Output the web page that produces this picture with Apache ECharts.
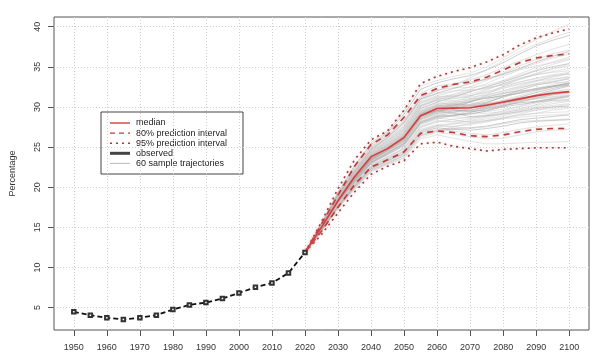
<!DOCTYPE html>
<html><head><meta charset="utf-8">
<script src="https://cdn.jsdelivr.net/npm/echarts@6/dist/echarts.min.js"></script>
<style>html,body{margin:0;padding:0;background:#fff}#c{width:600px;height:360px}</style>
</head><body><div id="c"></div>
<script>
const obsYears = [1950,1955,1960,1965,1970,1975,1980,1985,1990,1995,2000,2005,2010,2015,2020];
const obsValues = [4.47,4.05,3.72,3.51,3.72,4.05,4.75,5.33,5.62,6.12,6.82,7.52,8.06,9.3,11.86];
const projYears = [2020,2025,2030,2035,2040,2045,2050,2055,2060,2065,2070,2075,2080,2085,2090,2095,2100];
const median   = [11.86,15.0,18.3,21.3,23.8,24.8,26.2,28.9,29.8,29.85,29.9,30.2,30.6,31.0,31.4,31.7,31.9];
const pi80Low  = [11.86,14.5,17.5,20.3,22.5,23.4,24.4,26.7,27.0,26.8,26.4,26.3,26.5,26.9,27.2,27.3,27.3];
const pi80High = [11.86,15.4,19.0,22.6,25.3,26.5,28.7,31.4,32.3,32.8,33.1,33.7,34.6,35.5,36.1,36.4,36.6];
const pi95Low  = [11.86,14.1,16.8,19.4,21.6,22.6,23.3,25.4,25.6,25.1,24.8,24.5,24.7,24.8,24.9,24.9,24.9];
const pi95High = [11.86,15.7,19.8,23.4,25.9,27.0,29.6,32.9,33.8,34.4,34.9,35.6,36.5,37.7,38.6,39.2,39.7];
const trajectories = [
 [11.86,15.2,18.7,21.5,24.0,25.3,26.8,29.8,30.6,31.2,31.9,32.5,33.1,33.8,34.5,35.0,35.4],
 [11.86,14.9,18.2,20.6,23.0,24.1,25.2,27.9,28.6,28.4,28.1,28.3,28.6,28.9,29.2,29.6,29.8],
 [11.86,15.4,19.1,22.3,24.9,26.4,28.3,31.2,32.0,32.8,33.4,34.0,34.9,35.7,36.5,37.2,37.8],
 [11.86,14.6,17.6,20.0,22.3,23.2,24.1,26.6,27.2,27.0,26.7,26.5,26.8,27.2,27.5,27.7,27.9],
 [11.86,15.0,18.4,21.0,23.5,24.9,26.3,29.2,30.1,30.4,30.2,30.6,31.2,31.8,32.3,32.6,32.9],
 [11.86,15.3,18.9,21.8,24.4,25.8,27.4,30.4,31.1,31.6,32.2,32.9,33.8,34.6,35.1,35.5,36.0],
 [11.86,14.8,18.0,20.4,22.8,23.8,24.9,27.6,28.3,28.2,28.5,28.9,29.3,29.6,30.0,30.4,30.7],
 [11.86,15.1,18.6,21.3,23.8,25.0,26.4,29.3,30.0,29.7,29.5,29.9,30.4,30.9,31.3,31.6,31.8],
 [11.86,15.5,19.3,22.6,25.3,26.8,29.1,32.2,33.0,33.5,33.9,34.6,35.5,36.6,37.6,38.3,38.9],
 [11.86,14.5,17.3,19.7,21.9,22.8,23.6,26.0,26.5,26.1,25.7,25.4,25.4,25.5,25.6,25.6,25.7],
 [11.86,15.0,18.3,20.9,23.3,24.5,25.9,28.7,29.3,29.7,30.3,30.9,31.6,32.3,32.9,33.4,33.8],
 [11.86,15.2,18.8,21.6,24.1,25.4,27.0,30.0,30.8,30.7,30.5,30.4,30.6,30.9,31.3,31.7,31.9],
 [11.86,14.9,18.1,20.7,23.1,24.2,25.5,28.2,28.9,29.3,29.8,30.5,31.3,32.1,32.7,33.1,33.5],
 [11.86,15.3,18.9,21.9,24.6,26.1,27.9,30.9,31.6,32.0,32.1,32.3,32.8,33.4,34.0,34.4,34.8],
 [11.86,14.7,17.8,20.2,22.6,23.5,24.6,27.2,27.8,27.9,28.0,28.3,28.7,29.0,29.2,29.3,29.4],
 [11.86,15.1,18.5,21.1,23.6,24.7,26.0,28.8,29.6,30.1,30.6,31.5,32.6,33.5,34.2,34.8,35.3],
 [11.86,15.0,18.4,21.0,23.4,24.6,26.0,28.9,29.5,29.2,28.8,28.9,29.1,29.4,29.8,30.0,30.1],
 [11.86,15.4,19.0,22.1,24.8,26.2,28.0,31.0,32.0,32.7,33.6,34.6,35.8,36.9,37.8,38.6,39.3],
 [11.86,14.8,17.9,20.3,22.6,23.7,24.8,27.4,28.1,28.5,28.7,29.0,29.5,30.1,30.7,31.1,31.4],
 [11.86,15.2,18.6,21.4,23.9,25.1,26.6,29.5,30.3,30.5,30.9,31.4,32.0,32.5,32.9,33.2,33.6],
 [11.86,14.6,17.5,19.9,22.1,23.0,23.9,26.4,27.0,27.3,27.4,27.6,28.0,28.4,28.6,28.8,29.0],
 [11.86,15.1,18.5,21.2,23.7,24.9,26.2,29.0,29.8,30.0,29.9,30.1,30.5,30.8,31.0,31.3,31.5],
 [11.86,15.3,18.8,21.7,24.3,25.7,27.3,30.2,30.9,31.3,31.9,32.5,33.2,33.9,34.6,35.3,35.9],
 [11.86,14.9,18.2,20.8,23.2,24.3,25.6,28.4,29.0,28.8,28.6,28.8,29.2,29.7,30.3,30.9,31.2],
 [11.86,15.0,18.3,20.9,23.4,24.6,25.8,28.6,29.4,29.9,30.6,31.2,31.7,32.0,32.2,32.6,33.0],
 [11.86,15.5,19.2,22.4,25.1,26.6,28.7,31.7,32.6,32.9,33.1,33.4,34.0,34.7,35.4,36.1,36.6],
 [11.86,14.7,17.7,20.1,22.4,23.4,24.3,26.9,27.6,27.5,27.3,27.5,27.9,28.2,28.3,28.4,28.5],
 [11.86,15.2,18.7,21.5,24.0,25.2,26.7,29.6,30.4,30.8,31.0,31.1,31.3,31.7,32.3,32.8,33.2],
 [11.86,15.0,18.4,21.0,23.5,24.8,26.1,28.9,29.6,29.6,29.4,29.6,30.1,30.6,31.1,31.5,31.9],
 [11.86,15.1,18.6,21.3,23.8,25.1,26.5,29.4,30.2,30.6,31.3,32.1,32.9,33.6,34.0,34.3,34.5],
 [11.86,14.8,18.0,20.5,22.9,24.0,25.1,27.8,28.5,28.9,29.2,29.4,29.7,30.0,30.5,31.0,31.4],
 [11.86,15.3,18.9,21.8,24.5,25.9,27.6,30.6,31.3,31.4,31.6,32.2,32.9,33.5,34.1,34.7,35.1],
 [11.86,14.9,18.2,20.7,23.1,24.3,25.4,28.1,28.8,29.0,29.1,29.5,30.0,30.3,30.6,30.8,30.9],
 [11.86,15.2,18.7,21.5,24.1,25.4,26.9,29.8,30.5,30.3,30.1,30.3,30.8,31.4,32.0,32.5,32.8],
 [11.86,14.6,17.6,20.0,22.2,23.1,24.0,26.5,27.1,27.5,27.9,28.2,28.5,28.7,28.9,29.0,29.1],
 [11.86,15.4,19.1,22.2,25.0,26.4,28.3,31.3,32.1,32.4,32.4,32.7,33.3,34.1,34.9,35.6,36.2],
 [11.86,15.0,18.4,21.0,23.5,24.7,26.0,28.8,29.5,29.9,30.1,30.3,30.5,30.9,31.5,32.1,32.6],
 [11.86,15.1,18.5,21.2,23.6,24.8,26.3,29.1,29.9,30.3,30.8,31.3,31.8,32.4,32.8,33.0,33.1],
 [11.86,14.7,17.8,20.3,22.5,23.6,24.5,27.1,27.7,27.6,27.8,28.1,28.6,29.1,29.6,30.0,30.3],
 [11.86,15.3,18.8,21.6,24.2,25.5,27.1,30.1,30.9,31.5,32.0,32.4,32.7,33.1,33.6,34.0,34.3],
 [11.86,14.9,18.1,20.6,23.0,24.1,25.3,28.0,28.7,28.9,29.3,29.8,30.2,30.5,30.7,31.0,31.3],
 [11.86,15.2,18.6,21.4,23.9,25.2,26.6,29.5,30.2,30.1,30.3,30.8,31.4,31.9,32.3,32.5,32.7],
 [11.86,15.5,19.4,22.7,25.5,27.0,29.5,32.6,33.3,33.8,34.2,35.0,36.1,37.3,38.4,39.4,40.3],
 [11.86,14.5,17.4,19.8,22.0,22.9,23.7,26.2,26.8,26.6,26.3,26.0,26.1,26.5,26.9,27.1,27.2],
 [11.86,15.0,18.3,20.9,23.3,24.5,25.7,28.5,29.2,29.5,29.6,30.0,30.6,31.2,31.8,32.3,32.7],
 [11.86,15.1,18.5,21.2,23.7,25.0,26.4,29.2,30.0,30.2,30.2,30.4,30.8,31.1,31.4,31.6,31.8],
 [11.86,15.3,18.9,21.9,24.6,26.0,27.7,30.7,31.4,31.9,32.5,33.3,34.2,35.1,35.9,36.6,37.1],
 [11.86,14.8,17.9,20.4,22.7,23.8,24.8,27.5,28.2,28.1,28.2,28.5,28.9,29.3,29.6,29.8,30.0],
 [11.86,15.0,18.4,21.1,23.6,24.9,26.2,29.1,29.8,30.2,30.7,31.1,31.4,31.7,32.1,32.5,32.9],
 [11.86,15.2,18.7,21.6,24.2,25.6,27.2,30.2,31.0,31.1,31.2,31.5,32.0,32.6,33.2,33.8,34.2],
 [11.86,14.7,17.7,20.2,22.5,23.5,24.4,27.0,27.6,27.9,28.3,28.7,29.1,29.5,29.9,30.2,30.4],
 [11.86,15.1,18.6,21.3,23.8,25.1,26.5,29.4,30.1,30.0,29.7,29.8,30.2,30.7,31.0,31.2,31.4],
 [11.86,15.4,19.0,22.0,24.7,26.2,28.1,31.0,31.7,32.3,32.9,33.5,34.1,34.8,35.6,36.3,36.9],
 [11.86,14.9,18.2,20.8,23.2,24.4,25.6,28.4,29.1,29.4,29.5,29.7,30.2,30.8,31.4,31.9,32.2],
 [11.86,15.0,18.4,21.0,23.4,24.6,25.9,28.7,29.4,29.3,29.1,29.2,29.4,29.8,30.2,30.6,30.8],
 [11.86,15.2,18.8,21.7,24.3,25.6,27.2,30.1,30.8,31.0,31.4,31.9,32.5,33.1,33.5,33.9,34.1],
 [11.86,14.6,17.6,20.1,22.3,23.3,24.2,26.8,27.4,27.2,27.1,27.3,27.6,28.0,28.2,28.3,28.4],
 [11.86,15.1,18.5,21.2,23.7,24.9,26.3,29.1,29.9,30.4,31.0,31.7,32.3,32.8,33.2,33.5,33.7],
 [11.86,15.3,18.9,21.8,24.4,25.8,27.5,30.5,31.2,31.3,31.4,31.8,32.4,32.9,33.3,33.7,34.1],
 [11.86,14.8,18.1,20.6,23.0,24.1,25.2,27.9,28.6,29.0,29.5,30.0,30.4,30.8,31.2,31.5,31.7]
];
const xTicks = [1950,1960,1970,1980,1990,2000,2010,2020,2030,2040,2050,2060,2070,2080,2090,2100];
const yTicks = [5,10,15,20,25,30,35,40];
const legendLabels = ['median','80% prediction interval','95% prediction interval','observed','60 sample trajectories'];

const FONT = 'Liberation Sans, Arial, sans-serif';
const pair = (xs, ys) => xs.map((x, i) => [x, ys[i]]);
const redMed = '#d04040', redDash = '#b83c3c', redDot = '#a03c3c';
const halo = {shadowBlur: 3, shadowColor: 'rgba(240,140,140,0.5)'};

const series = [];
trajectories.forEach((t, i) => {
  series.push({type: 'line', data: pair(projYears, t), symbol: 'none', silent: true, z: 1,
    lineStyle: {color: i % 4 === 0 ? 'rgba(150,150,150,0.6)' : 'rgba(195,195,195,0.6)', width: 0.8}});
});
function band(vals, color, type, width) {
  return {type: 'line', data: pair(projYears, vals), symbol: 'none', silent: true, z: 3,
    lineStyle: Object.assign({color, width, type}, halo)};
}
series.push(band(pi95Low, redDot, [2, 4], 1.6));
series.push(band(pi95High, redDot, [2, 4], 1.6));
series.push(band(pi80Low, redDash, [6, 5], 1.6));
series.push(band(pi80High, redDash, [6, 5], 1.6));
series.push(Object.assign(band(median, redMed, 'solid', 1.6), {z: 4}));
series.push({type: 'line', data: pair(obsYears, obsValues), symbol: 'emptyRect', symbolSize: 3.5, z: 5, silent: true,
  lineStyle: {color: '#111', width: 1.8, type: [5, 3]}, itemStyle: {color: '#333', borderWidth: 1}});

// legend drawn as graphic
const lgX = 101, lgY = 112, rowH = 10.1;
const legendStyles = [
  {stroke: redMed, lineWidth: 1.4},
  {stroke: redDash, lineWidth: 1.4, lineDash: [5, 4]},
  {stroke: redDot, lineWidth: 1.4, lineDash: [2, 4]},
  {stroke: '#444', lineWidth: 3},
  {stroke: '#bbb', lineWidth: 1}
];
const lgChildren = [{type: 'rect', shape: {x: 0, y: 0, width: 142, height: 62}, style: {fill: '#fff', stroke: '#444', lineWidth: 1}}];
legendLabels.forEach((lab, i) => {
  const yy = 11 + i * rowH;
  lgChildren.push({type: 'line', shape: {x1: 9, y1: yy, x2: 29, y2: yy}, style: legendStyles[i]});
  lgChildren.push({type: 'text', x: 35, y: yy, style: {text: lab, fill: '#222', font: '9px ' + FONT, verticalAlign: 'middle'}});
});

const chart = echarts.init(document.getElementById('c'), null, {renderer: 'canvas'});
chart.setOption({
  animation: false,
  backgroundColor: '#fff',
  grid: {left: 48, right: 11, top: 17, bottom: 30, show: true, borderColor: '#555', borderWidth: 1},
  xAxis: {type: 'value', min: 1944, max: 2106,
    axisLine: {show: false},
    axisTick: {show: true, length: 6, customValues: xTicks, lineStyle: {color: '#555'}},
    axisLabel: {customValues: xTicks, fontSize: 9, color: '#333', margin: 13, fontFamily: FONT, formatter: v => String(v)},
    splitLine: {show: true, lineStyle: {color: '#cfcfcf', width: 1, type: [1, 2]}}},
  yAxis: {type: 'value', min: 2.2, max: 41.2,
    name: 'Percentage', nameLocation: 'middle', nameGap: 37, nameRotate: 90,
    nameTextStyle: {fontSize: 9, color: '#333', fontFamily: FONT},
    axisLine: {show: false},
    axisTick: {show: true, length: 6, customValues: yTicks, lineStyle: {color: '#555'}},
    axisLabel: {customValues: yTicks, fontSize: 9, color: '#333', rotate: 90, margin: 12, fontFamily: FONT, formatter: v => String(v)},
    splitLine: {show: true, lineStyle: {color: '#cfcfcf', width: 1, type: [1, 2]}}},
  series,
  graphic: [{type: 'group', x: lgX, y: lgY, z: 100, children: lgChildren}]
});
</script></body></html>
